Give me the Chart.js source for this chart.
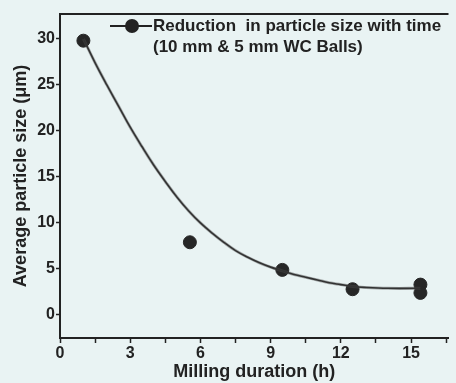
<!DOCTYPE html>
<html>
<head>
<meta charset="utf-8">
<script src="https://cdn.jsdelivr.net/npm/chart.js@4/dist/chart.umd.min.js"></script>
<style>
  html, body { margin: 0; padding: 0; background: #e9f3f3; }
  #wrap { width: 456px; height: 383px; }
</style>
</head>
<body>
<div id="wrap"><canvas id="chart"></canvas></div>
<script>
// measured points (milling time in h, particle size in um)
const pointHours = [1, 5.55, 9.5, 12.5, 15.4, 15.4];
const pointSizes = [29.8, 7.9, 4.9, 2.8, 3.3, 2.4];

// fitted curve
const curveHours = [1, 1.5, 2, 2.5, 3, 3.5, 4, 4.5, 5, 5.5, 6, 6.5, 7, 7.5, 8, 8.5, 9, 9.5, 10, 10.5, 11, 11.5, 12, 12.5, 13, 14, 15.4];
const curveSizes = [30, 27.4, 25, 22.7, 20.4, 18.3, 16.3, 14.5, 12.8, 11.3, 10, 8.9, 7.9, 7, 6.3, 5.7, 5.2, 4.8, 4.4, 4.1, 3.8, 3.5, 3.3, 3.1, 3.0, 2.9, 2.9];

const xTicks = [0, 1.5, 3, 4.5, 6, 7.5, 9, 10.5, 12, 13.5, 15, 16.5];
const yTicks = [0, 5, 10, 15, 20, 25, 30];

const legendLines = ['Reduction  in particle size with time', '(10 mm & 5 mm WC Balls)'];

const ink = '#222';
const font = 'Liberation Sans, Arial, sans-serif';

const frame = {
  id: 'frame',
  afterDraw(chart) {
    const { ctx, chartArea } = chart;
    ctx.save();
    // top border
    ctx.strokeStyle = ink;
    ctx.lineWidth = 2;
    ctx.beginPath();
    ctx.moveTo(chartArea.left - 1, chartArea.top);
    ctx.lineTo(chartArea.right, chartArea.top);
    ctx.stroke();

    // legend
    const y0 = 26;
    ctx.lineWidth = 2;
    ctx.beginPath();
    ctx.moveTo(110, y0);
    ctx.lineTo(152, y0);
    ctx.stroke();
    ctx.fillStyle = ink;
    ctx.beginPath();
    ctx.arc(132, y0, 7, 0, Math.PI * 2);
    ctx.fill();
    ctx.font = 'bold 17px ' + font;
    ctx.textBaseline = 'middle';
    ctx.fillText(legendLines[0], 153, y0);
    ctx.fillText(legendLines[1], 153, 47);
    ctx.restore();
  }
};

new Chart(document.getElementById('chart'), {
  type: 'scatter',
  data: {
    datasets: [
      {
        type: 'line',
        data: curveHours.map((h, i) => ({ x: h, y: curveSizes[i] })),
        borderColor: 'rgba(80,80,80,0.45)',
        borderWidth: 3,
        pointRadius: 0,
        tension: 0.4,
        fill: false
      },
      {
        type: 'line',
        data: curveHours.map((h, i) => ({ x: h, y: curveSizes[i] })),
        borderColor: '#1a1a1a',
        borderWidth: 1.6,
        pointRadius: 0,
        tension: 0.4,
        fill: false
      },
      {
        data: pointHours.map((h, i) => ({ x: h, y: pointSizes[i] })),
        backgroundColor: '#262626',
        borderColor: '#262626',
        pointRadius: 6.5
      }
    ]
  },
  options: {
    responsive: true,
    maintainAspectRatio: false,
    animation: false,
    layout: { padding: { top: 14, right: 0, left: 0, bottom: 0 } },
    plugins: {
      legend: { display: false },
      tooltip: { enabled: false }
    },
    scales: {
      x: {
        type: 'linear',
        min: 0,
        max: 16.6,
        afterBuildTicks: s => { s.ticks = xTicks.map(v => ({ value: v })); },
        afterFit: s => { s.height = 45; },
        border: { color: ink, width: 2 },
        grid: { display: true, drawOnChartArea: false, tickLength: 5, tickColor: ink, tickWidth: 1.5 },
        ticks: {
          color: ink,
          font: { family: font, size: 16, weight: 'bold' },
          padding: 1,
          maxRotation: 0,
          callback: v => (v % 3 === 0 ? v : '')
        },
        title: {
          display: true,
          text: 'Milling duration (h)',
          color: ink,
          font: { family: font, size: 18, weight: 'bold' },
          padding: { top: 0, bottom: 0 }
        }
      },
      y: {
        min: -2.5,
        max: 32.7,
        afterBuildTicks: s => { s.ticks = yTicks.map(v => ({ value: v })); },
        afterFit: s => { s.width = 60; },
        border: { color: ink, width: 2 },
        grid: { display: true, drawOnChartArea: false, tickLength: 4, tickColor: ink, tickWidth: 1.5 },
        ticks: {
          color: ink,
          font: { family: font, size: 16, weight: 'bold' },
          padding: 1
        },
        title: {
          display: true,
          text: 'Average particle size (μm)',
          color: ink,
          font: { family: font, size: 18, weight: 'bold' },
          padding: { top: 10, bottom: 0 }
        }
      }
    }
  },
  plugins: [frame]
});
</script>
</body>
</html>
